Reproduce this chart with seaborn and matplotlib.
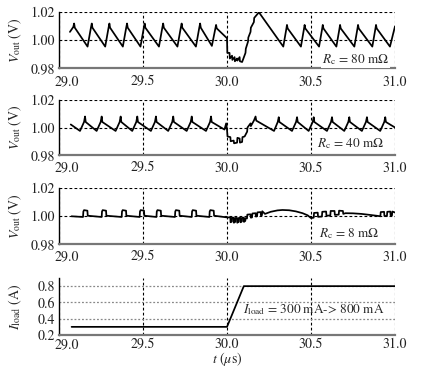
import matplotlib
matplotlib.use("Agg")
import matplotlib.pyplot as plt
import matplotlib.transforms as mtransforms
import seaborn as sns
import pandas as pd

# ---------------- data ----------------
# Panel 1: Rc = 80 mOhm
t_80 = [29.065, 29.085, 29.090, 29.094,
        29.170, 29.190, 29.195, 29.199,
        29.275, 29.295, 29.300, 29.304,
        29.380, 29.400, 29.405, 29.409,
        29.485, 29.505, 29.510, 29.514,
        29.595, 29.615, 29.620, 29.624,
        29.705, 29.725, 29.730, 29.734,
        29.815, 29.835, 29.840, 29.844,
        29.910, 29.930, 29.935, 29.939,
        30.000, 30.002, 30.015, 30.017, 30.030, 30.032, 30.045, 30.047,
        30.060, 30.062, 30.075, 30.077, 30.090,
        30.110, 30.112, 30.125, 30.127, 30.140, 30.142, 30.160, 30.162, 30.190,
        30.335, 30.353, 30.357, 30.361,
        30.440, 30.458, 30.462, 30.466,
        30.548, 30.566, 30.570, 30.574,
        30.651, 30.669, 30.673, 30.677,
        30.758, 30.776, 30.780, 30.784,
        30.865, 30.883, 30.887, 30.891,
        30.970, 30.998, 31.000]
v_80 = [1.006, 1.0095, 1.0120, 1.0090,
        0.9955, 1.0090, 1.0120, 1.0090,
        0.9955, 1.0090, 1.0120, 1.0090,
        0.9955, 1.0090, 1.0120, 1.0090,
        0.9955, 1.0090, 1.0120, 1.0090,
        0.9955, 1.0090, 1.0120, 1.0090,
        0.9955, 1.0090, 1.0120, 1.0090,
        0.9955, 1.0090, 1.0120, 1.0090,
        0.9960, 1.0080, 1.0110, 1.0085,
        1.0015, 0.9910, 0.9910, 0.9870, 0.9890, 0.9860, 0.9880, 0.9850,
        0.9870, 0.9855, 0.9880, 0.9850, 0.9845,
        0.9910, 0.9940, 0.9990, 1.0020, 1.0060, 1.0090, 1.0130, 1.0160, 1.0200,
        0.9955, 1.0080, 1.0110, 1.0085,
        0.9955, 1.0080, 1.0110, 1.0085,
        0.9955, 1.0080, 1.0110, 1.0085,
        0.9955, 1.0080, 1.0110, 1.0085,
        0.9955, 1.0080, 1.0110, 1.0085,
        0.9955, 1.0080, 1.0110, 1.0085,
        0.9955, 1.0090, 1.0100]

# Panel 2: Rc = 40 mOhm
t_40 = [29.070,
        29.125, 29.149, 29.155, 29.159,
        29.224, 29.248, 29.254, 29.258,
        29.337, 29.361, 29.367, 29.371,
        29.436, 29.460, 29.466, 29.470,
        29.547, 29.571, 29.577, 29.581,
        29.650, 29.674, 29.680, 29.684,
        29.760, 29.784, 29.790, 29.794,
        29.875, 29.899, 29.905, 29.909,
        29.985, 29.995, 30.000, 30.003, 30.020, 30.022, 30.040, 30.042,
        30.060, 30.062, 30.075, 30.077, 30.090, 30.092, 30.105,
        30.120, 30.122, 30.140, 30.142, 30.160, 30.170, 30.174,
        30.280, 30.302, 30.308, 30.312,
        30.387, 30.411, 30.417, 30.421,
        30.486, 30.510, 30.516, 30.520,
        30.595, 30.619, 30.625, 30.629,
        30.698, 30.722, 30.728, 30.732,
        30.803, 30.827, 30.833, 30.837,
        30.912, 30.936, 30.942, 30.946,
        31.000]
v_40 = [1.0022,
        0.9975, 1.0040, 1.0080, 1.0040,
        0.9975, 1.0040, 1.0080, 1.0040,
        0.9975, 1.0040, 1.0080, 1.0040,
        0.9975, 1.0040, 1.0080, 1.0040,
        0.9975, 1.0040, 1.0080, 1.0040,
        0.9975, 1.0040, 1.0080, 1.0040,
        0.9975, 1.0040, 1.0080, 1.0040,
        0.9975, 1.0040, 1.0080, 1.0040,
        0.9985, 1.0030, 0.9985, 0.9935, 0.9930, 0.9900, 0.9905, 0.9885,
        0.9890, 0.9925, 0.9920, 0.9890, 0.9895, 0.9930, 0.9935,
        0.9970, 1.0000, 1.0030, 1.0010, 1.0050, 1.0080, 1.0050,
        0.9975, 1.0040, 1.0075, 1.0040,
        0.9975, 1.0040, 1.0075, 1.0040,
        0.9975, 1.0040, 1.0075, 1.0040,
        0.9975, 1.0040, 1.0075, 1.0040,
        0.9975, 1.0040, 1.0075, 1.0040,
        0.9975, 1.0040, 1.0075, 1.0040,
        0.9975, 1.0040, 1.0075, 1.0040,
        1.0000]

# Panel 3: Rc = 8 mOhm
t_8 = [29.075,
       29.143, 29.145, 29.149, 29.169, 29.171,
       29.254, 29.256, 29.260, 29.280, 29.282,
       29.373, 29.375, 29.379, 29.399, 29.401,
       29.480, 29.482, 29.486, 29.506, 29.508,
       29.580, 29.582, 29.586, 29.606, 29.608,
       29.690, 29.692, 29.696, 29.716, 29.718,
       29.790, 29.792, 29.796, 29.816, 29.818,
       29.895, 29.897, 29.901, 29.921, 29.923,
       30.000,
       30.020, 30.021, 30.029, 30.030,
       30.040, 30.041, 30.049, 30.050,
       30.060, 30.061, 30.069, 30.070,
       30.080, 30.081, 30.089, 30.090,
       30.100, 30.101, 30.109, 30.110,
       30.119, 30.121, 30.140, 30.142,
       30.149, 30.151, 30.170, 30.172,
       30.179, 30.181, 30.200, 30.202,
       30.208, 30.210, 30.226,
       30.260, 30.300, 30.330, 30.370, 30.410, 30.450, 30.480, 30.500,
       30.516, 30.518, 30.540, 30.542,
       30.565, 30.567, 30.590, 30.592,
       30.615, 30.617, 30.640, 30.642,
       30.665, 30.667, 30.690, 30.692,
       30.705, 30.750, 30.800, 30.850, 30.890,
       30.913, 30.915, 30.935, 30.937,
       30.952, 30.954, 30.972, 30.974,
       30.982, 30.984, 31.000]
v_8 = [0.9998,
       0.9993, 1.0032, 1.0042, 1.0038, 1.0002,
       0.9993, 1.0032, 1.0042, 1.0038, 1.0002,
       0.9993, 1.0032, 1.0042, 1.0038, 1.0002,
       0.9993, 1.0032, 1.0042, 1.0038, 1.0002,
       0.9993, 1.0032, 1.0042, 1.0038, 1.0002,
       0.9993, 1.0032, 1.0042, 1.0038, 1.0002,
       0.9993, 1.0032, 1.0042, 1.0038, 1.0002,
       0.9993, 1.0032, 1.0042, 1.0038, 1.0002,
       0.9990,
       0.9990, 0.9955, 0.9960, 0.9988,
       0.9988, 0.9952, 0.9958, 0.9986,
       0.9986, 0.9952, 0.9958, 0.9986,
       0.9987, 0.9955, 0.9962, 0.9988,
       0.9988, 0.9958, 0.9965, 0.9985,
       0.9982, 1.0010, 1.0012, 0.9988,
       0.9990, 1.0018, 1.0020, 0.9996,
       0.9998, 1.0026, 1.0028, 1.0004,
       1.0006, 1.0034, 1.0015,
       1.0030, 1.0040, 1.0043, 1.0041, 1.0033, 1.0020, 1.0005, 0.9985,
       0.9988, 1.0022, 1.0024, 0.9994,
       0.9996, 1.0030, 1.0032, 1.0002,
       1.0004, 1.0036, 1.0036, 1.0008,
       1.0010, 1.0038, 1.0036, 1.0015,
       1.0020, 1.0019, 1.0015, 1.0008, 1.0002,
       0.9998, 1.0028, 1.0030, 1.0000,
       1.0000, 1.0030, 1.0032, 1.0004,
       1.0004, 1.0032, 1.0025]

# Panel 4: load current
t_load = [29.075, 30.000, 30.100, 31.000]
i_load = [0.30, 0.30, 0.80, 0.80]

x_ticks = [29.0, 29.5, 30.0, 30.5, 31.0]
v_ticks = [0.98, 1.00, 1.02]
i_ticks = [0.2, 0.4, 0.6, 0.8]
labels_rc = [r"$R_{\rm c}$ = 80 m$\Omega$", r"$R_{\rm c}$ = 40 m$\Omega$",
             r"$R_{\rm c}$ = 8 m$\Omega$"]
label_load = r"$I_{\rm load}$ = 300 mA-> 800 mA"

# ---------------- style ----------------
sns.set_theme(style="white")
plt.rcParams["font.family"] = ["STIXGeneral", "Liberation Serif", "DejaVu Serif"]
plt.rcParams["mathtext.fontset"] = "stix"

W, H = 423, 373
fig = plt.figure(figsize=(W / 100, H / 100), dpi=100)

left = 59 / W
width = 336 / W
tops = [12.3, 100, 188, 278]
bottoms = [68.3, 155, 244, 335]
xpads = [5, 4.5, 4.5, 2.0]

series = [(t_80, v_80), (t_40, v_40), (t_8, v_8), (t_load, i_load)]
axes = []
for k in range(4):
    ax = fig.add_axes([left, 1 - bottoms[k] / H, width, (bottoms[k] - tops[k]) / H])
    axes.append(ax)
    tt, vv = series[k]
    df = pd.DataFrame({"t": tt, "v": vv})
    sns.lineplot(data=df, x="t", y="v", ax=ax, color="black", lw=1.25,
                 sort=False, estimator=None)
    ax.set_xlim(29.0, 31.0)
    ax.set_xticks(x_ticks)
    ax.set_xticklabels([f"{x:.1f}" for x in x_ticks])
    ax.tick_params(axis="both", length=0, labelsize=10, colors="#222222")
    ax.tick_params(axis="x", pad=xpads[k])
    ax.tick_params(axis="y", pad=3)
    for s in ["top", "right"]:
        ax.spines[s].set_visible(False)
    ax.spines["left"].set_color("black")
    ax.spines["left"].set_linewidth(1.0)
    ax.spines["bottom"].set_color("#777777")
    ax.spines["bottom"].set_linewidth(1.6)
    ax.xaxis.grid(True, color="black", linestyle=(0, (2.5, 2)), lw=0.8)
    ax.set_axisbelow(True)
    if k < 3:
        ax.set_ylim(0.98, 1.02)
        ax.set_yticks(v_ticks)
        ax.set_yticklabels([f"{y:.2f}" for y in v_ticks])
        ax.yaxis.grid(True, color="black", linestyle=(0, (2.5, 2)), lw=0.8)
        ax.set_ylabel(r"$V_{\rm out}$ (V)", fontsize=10)
        ax.set_xlabel("")
    else:
        ax.set_ylim(0.2, 0.9)
        ax.set_yticks(i_ticks)
        ax.set_yticklabels([f"{y:.1f}" for y in i_ticks])
        ax.yaxis.grid(True, color="#888888", linestyle=(0, (1.5, 1.5)), lw=0.9)
        ax.set_ylabel(r"$I_{\rm load}$ (A)", fontsize=10)
        ax.set_xlabel(r"$t$ ($\mu$s)", fontsize=10)
        ax.xaxis.set_label_coords(0.5, -0.27)
    ax.yaxis.set_label_coords(-0.104, 0.5)
    # first x tick label sits a little to the right, as in the reference
    first = ax.get_xticklabels()[0]
    first.set_transform(first.get_transform() +
                        mtransforms.ScaledTranslation(8 / 100, 0, fig.dpi_scale_trans))

ann_pos = [(30.965, 0.986), (30.935, 0.9885), (30.91, 0.9876)]
for k in range(3):
    axes[k].text(ann_pos[k][0], ann_pos[k][1], labels_rc[k], ha="right",
                 va="center", fontsize=9.5,
                 bbox=dict(facecolor="white", edgecolor="none", pad=0.5))
axes[3].text(30.935, 0.51, label_load, ha="right", va="center", fontsize=9.5)

fig.savefig("out.png", dpi=100, facecolor="white")
